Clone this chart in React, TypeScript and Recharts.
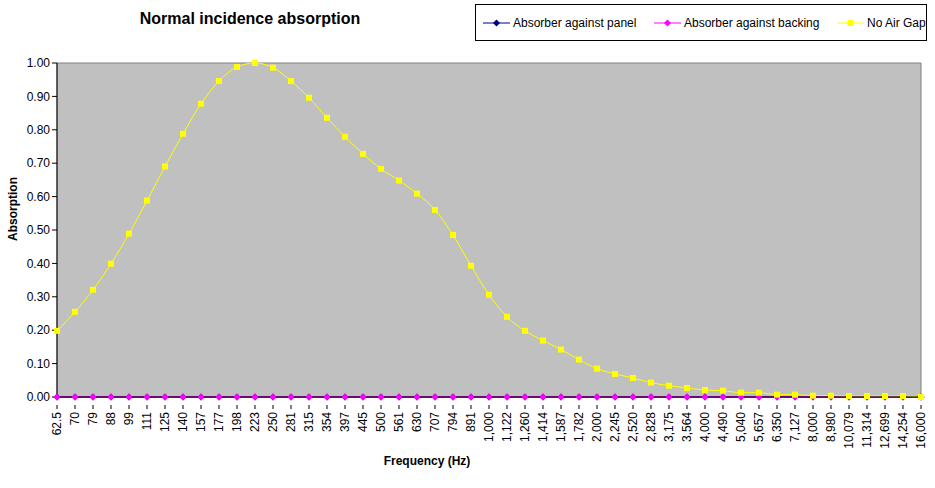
import React from "react"
import {
  LineChart,
  Line,
  XAxis,
  YAxis,
  CartesianGrid,
  ReferenceArea,
} from "recharts"

// Frequency bands (Hz), as shown on the category axis
const frequencies = [
  "62.5", "70", "79", "88", "99", "111", "125", "140", "157", "177", "198", "223", "250",
  "281", "315", "354", "397", "445", "500", "561", "630", "707", "794", "891", "1,000",
  "1,122", "1,260", "1,414", "1,587", "1,782", "2,000", "2,245", "2,520", "2,828", "3,175",
  "3,564", "4,000", "4,490", "5,040", "5,657", "6,350", "7,127", "8,000", "8,980", "10,079",
  "11,314", "12,699", "14,254", "16,000",
]

const againstPanel = [
  0, 0, 0, 0, 0, 0, 0, 0, 0, 0, 0, 0, 0, 0, 0, 0, 0, 0, 0, 0, 0, 0, 0, 0, 0,
  0, 0, 0, 0, 0, 0, 0, 0, 0, 0, 0, 0, 0, 0, 0, 0, 0, 0, 0, 0, 0, 0, 0, 0,
]

const againstBacking = [
  0, 0, 0, 0, 0, 0, 0, 0, 0, 0, 0, 0, 0, 0, 0, 0, 0, 0, 0, 0, 0, 0, 0, 0, 0,
  0, 0, 0, 0, 0, 0, 0, 0, 0, 0, 0, 0, 0, 0, 0, 0, 0, 0, 0, 0, 0, 0, 0, 0,
]

const noAirGap = [
  0.198, 0.255, 0.321, 0.399, 0.489, 0.588, 0.69, 0.788, 0.878, 0.946, 0.988, 1.0, 0.986,
  0.946, 0.896, 0.836, 0.779, 0.728, 0.683, 0.648, 0.609, 0.56, 0.485, 0.393, 0.306,
  0.24, 0.198, 0.169, 0.142, 0.112, 0.085, 0.069, 0.057, 0.043, 0.034, 0.027, 0.021,
  0.019, 0.013, 0.013, 0.007, 0.007, 0.004, 0.004, 0.003, 0.003, 0.003, 0.003, 0.0,
]

const yTicks = [0, 0.1, 0.2, 0.3, 0.4, 0.5, 0.6, 0.7, 0.8, 0.9, 1.0]

const FONT = "Arial, 'Liberation Sans', sans-serif"

const data = frequencies.map((f, i) => ({
  freq: f,
  panel: againstPanel[i],
  backing: againstBacking[i],
  noGap: noAirGap[i],
}))

function Diamond(props: any) {
  const { cx, cy, fill } = props
  if (cx == null || cy == null) return null
  return <path d={`M${cx},${cy - 3.5}L${cx + 3.5},${cy}L${cx},${cy + 3.5}L${cx - 3.5},${cy}Z`} fill={fill} />
}

function Square(props: any) {
  const { cx, cy } = props
  if (cx == null || cy == null) return null
  return <rect x={cx - 3} y={cy - 3} width={6} height={6} fill="#FFFF00" />
}

function FreqTick(props: any) {
  const { x, y, payload } = props
  return (
    <g transform={`translate(${x},${y})`}>
      <line x1={0} y1={0} x2={0} y2={4} stroke="#000" />
      <text
        x={0}
        y={0}
        transform="translate(4,7) rotate(-90)"
        textAnchor="end"
        fontSize={12}
        fontFamily={FONT}
        fill="#000"
      >
        {payload.value}
      </text>
    </g>
  )
}

const legendItems = [
  { label: "Absorber against panel", color: "#000080", shape: "diamond", w: 171 },
  { label: "Absorber against backing", color: "#FF00FF", shape: "diamond", w: 183 },
  { label: "No Air Gap", color: "#FFFF00", shape: "square", w: 92 },
]

function ChartLegend() {
  return (
    <div
      style={{
        position: "absolute",
        left: 475,
        top: 4,
        width: 452,
        height: 37,
        border: "1px solid #000",
        background: "#fff",
        display: "flex",
        alignItems: "center",
        paddingLeft: 7,
        fontFamily: FONT,
        fontSize: 12,
        boxSizing: "border-box",
        whiteSpace: "nowrap",
      }}
    >
      {legendItems.map((it) => (
        <div key={it.label} style={{ display: "flex", alignItems: "center", width: it.w, flexShrink: 0 }}>
          <svg width={30} height={10}>
            <line x1={0} y1={5} x2={27} y2={5} stroke={it.color} />
            {it.shape === "diamond" ? (
              <path d="M13.5,1.5L17,5L13.5,8.5L10,5Z" fill={it.color} />
            ) : (
              <rect x={10.5} y={2} width={6} height={6} fill={it.color} />
            )}
          </svg>
          <span>{it.label}</span>
        </div>
      ))}
    </div>
  )
}

export default function App() {
  return (
    <div style={{ position: "absolute", left: 0, top: 0, width: 935, height: 488, background: "#fff" }}>
      <LineChart
        width={935}
        height={488}
        data={data}
        margin={{ top: 63, right: 14, bottom: 0, left: 0 }}
      >
        <text x={250} y={24} textAnchor="middle" fontFamily={FONT} fontSize={16} fontWeight="bold">
          Normal incidence absorption
        </text>
        <text
          x={17}
          y={209}
          transform="rotate(-90 17 209)"
          textAnchor="middle"
          fontFamily={FONT}
          fontSize={12}
          fontWeight="bold"
        >
          Absorption
        </text>
        <text x={427} y={465} textAnchor="middle" fontFamily={FONT} fontSize={12} fontWeight="bold">
          Frequency (Hz)
        </text>
        <CartesianGrid fill="#C0C0C0" horizontal={false} vertical={false} />
        <ReferenceArea
          x1={frequencies[0]}
          x2={frequencies[frequencies.length - 1]}
          y1={0}
          y2={1}
          fill="#C0C0C0"
          fillOpacity={1}
          stroke="#808080"
        />
        <XAxis
          dataKey="freq"
          scale="point"
          padding={{ left: 0, right: 0 }}
          interval={0}
          height={91}
          tick={<FreqTick />}
          tickLine={false}
          axisLine={{ stroke: "#000" }}
        />
        <YAxis
          width={57}
          domain={[0, 1]}
          ticks={yTicks}
          interval={0}
          tickFormatter={(v: number) => v.toFixed(2)}
          tick={{ fontSize: 12, fontFamily: FONT, fill: "#000" }}
          tickSize={5}
          tickLine={{ stroke: "#000" }}
          axisLine={{ stroke: "#000" }}
        />
        <Line
          dataKey="panel"
          stroke="#000080"
          strokeWidth={1}
          dot={<Diamond fill="#000080" />}
          isAnimationActive={false}
        />
        <Line
          dataKey="backing"
          stroke="#FF00FF"
          strokeWidth={1.5}
          dot={<Diamond fill="#FF00FF" />}
          isAnimationActive={false}
        />
        <Line
          dataKey="noGap"
          type="monotone"
          stroke="#FFFF00"
          strokeWidth={1}
          dot={<Square />}
          isAnimationActive={false}
        />
      </LineChart>
      <ChartLegend />
    </div>
  )
}
